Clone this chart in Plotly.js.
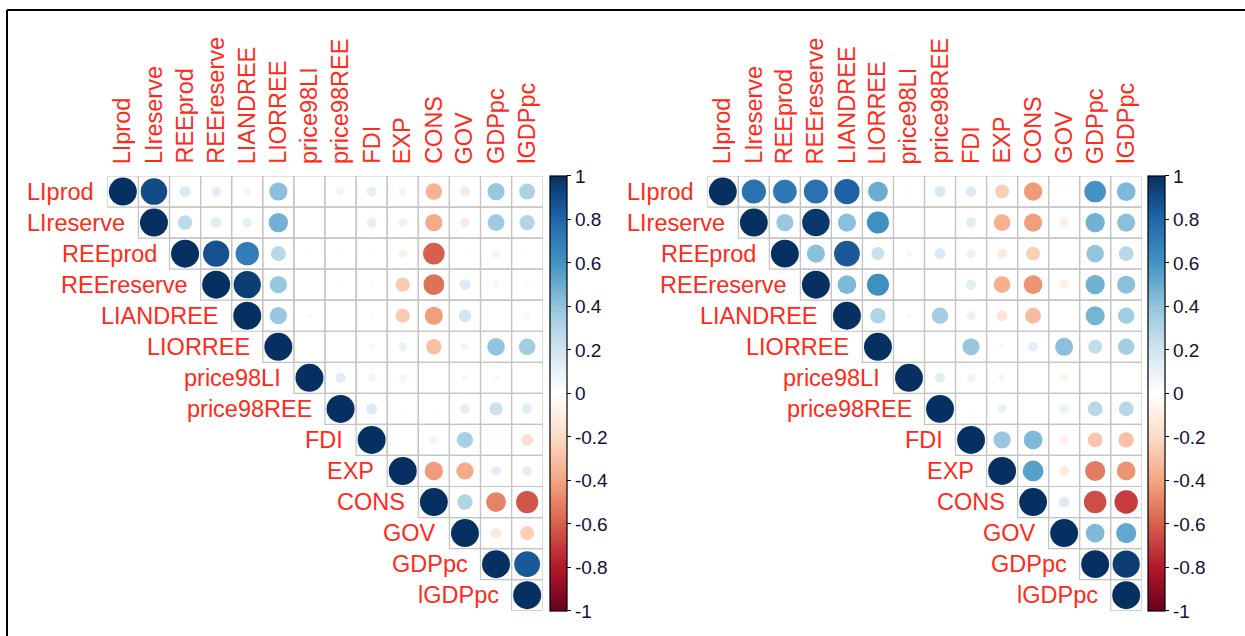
<!DOCTYPE html>
<html>
<head>
<meta charset="utf-8">
<script src="https://cdn.plot.ly/plotly-3.0.1.min.js"></script>
<style>
  html, body { margin: 0; padding: 0; background: #fff; }
  #chart { width: 1245px; height: 636px; }
</style>
</head>
<body>
<div id="chart"></div>
<script>
// Variable names (rows and columns of both correlation matrices)
const variables = ["LIprod", "LIreserve", "REEprod", "REEreserve", "LIANDREE", "LIORREE",
  "price98LI", "price98REE", "FDI", "EXP", "CONS", "GOV", "GDPpc", "lGDPpc"];

// Upper triangle of the left matrix: row i holds columns i..13
const corrLeft = [
  [1, 0.9, 0.16, 0.12, 0.07, 0.42, 0.01, 0.08, 0.12, -0.08, -0.35, -0.12, 0.38, 0.32],
  [1, 0.27, 0.14, 0.12, 0.48, 0.01, 0.0, 0.12, -0.09, -0.38, -0.12, 0.36, 0.3],
  [1, 0.88, 0.7, 0.28, -0.03, -0.01, -0.02, -0.09, -0.6, -0.01, -0.08, -0.01],
  [1, 0.95, 0.38, -0.01, -0.01, -0.03, -0.26, -0.55, 0.15, -0.05, 0.03],
  [1, 0.38, 0.04, 0.01, -0.03, -0.26, -0.42, 0.2, 0.01, 0.05],
  [1, 0.01, 0.01, -0.05, 0.1, -0.3, 0.07, 0.4, 0.35],
  [1, 0.13, 0.08, -0.07, 0.01, 0.05, 0.04, 0.01],
  [1, 0.15, -0.02, 0.02, 0.12, 0.22, 0.13],
  [1, -0.02, 0.07, 0.33, -0.03, -0.18],
  [1, -0.43, -0.38, 0.12, 0.12],
  [1, 0.3, -0.5, -0.63],
  [1, -0.13, -0.25],
  [1, 0.85],
  [1]
];

// Upper triangle of the right matrix
const corrRight = [
  [1, 0.75, 0.72, 0.75, 0.82, 0.5, 0.02, 0.16, 0.15, -0.25, -0.43, -0.02, 0.6, 0.45],
  [1, 0.38, 0.97, 0.42, 0.62, 0.01, 0.0, 0.13, -0.36, -0.42, -0.1, 0.48, 0.42],
  [1, 0.42, 0.85, 0.22, 0.05, 0.16, 0.1, -0.12, -0.25, -0.01, 0.4, 0.28],
  [1, 0.45, 0.62, 0.01, 0.0, 0.13, -0.36, -0.45, -0.1, 0.48, 0.42],
  [1, 0.3, 0.04, 0.35, 0.1, -0.15, -0.32, -0.01, 0.47, 0.35],
  [1, 0.01, 0.01, 0.38, -0.04, 0.12, 0.42, 0.25, 0.35],
  [1, 0.13, -0.08, -0.06, 0.01, -0.07, 0.01, 0.01],
  [1, 0.02, 0.1, 0.01, 0.1, 0.28, 0.28],
  [1, 0.38, 0.45, -0.08, -0.28, -0.3],
  [1, 0.55, -0.12, -0.52, -0.45],
  [1, 0.15, -0.65, -0.7],
  [1, 0.45, 0.52],
  [1, 0.95],
  [1]
];

// Colour bar ticks
const barTicks = [1, 0.8, 0.6, 0.4, 0.2, 0, -0.2, -0.4, -0.6, -0.8, -1];
const barTickText = ["1", "0.8", "0.6", "0.4", "0.2", "0", "-0.2", "-0.4", "-0.6", "-0.8", "-1"];

// Diverging red-blue palette
const rdbu = ["#67001F", "#B2182B", "#D6604D", "#F4A582", "#FDDBC7", "#FFFFFF",
  "#D1E5F0", "#92C5DE", "#4393C3", "#2166AC", "#053061"];
const colorscale = rdbu.map((c, k) => [k / (rdbu.length - 1), c]);

const W = 1245, H = 636;
const n = variables.length;
const FONT = "Liberation Sans, Arial, sans-serif";

// Pixel geometry of the two grids
const panels = [
  { data: corrLeft, left: 107.3, right: 542.7, bar: 550, ax: "" },
  { data: corrRight, left: 707.3, right: 1141.7, bar: 1148, ax: "2" }
];
const gridTop = 176, gridBottom = 610.7;

const traces = [];
const shapes = [];
const annotations = [];
const layout = {
  width: W, height: H,
  margin: { l: 0, r: 0, t: 0, b: 0 },
  paper_bgcolor: "#fff", plot_bgcolor: "rgba(0,0,0,0)",
  showlegend: false,
  font: { family: FONT, color: "#000" }
};

panels.forEach((p, idx) => {
  const cellPx = (p.right - p.left) / n;
  const xa = "xaxis" + p.ax, ya = "yaxis" + p.ax;
  const xr = "x" + p.ax, yr = "y" + p.ax;
  layout[xa] = {
    domain: [p.left / W, p.right / W], range: [0.5, n + 0.5],
    visible: false, fixedrange: true
  };
  layout[ya] = {
    domain: [1 - gridBottom / H, 1 - gridTop / H], range: [n + 0.5, 0.5],
    visible: false, fixedrange: true
  };
  if (p.ax) layout[ya].anchor = xr;
  if (p.ax) layout[xa].anchor = yr;

  const xs = [], ys = [], vals = [], sizes = [];
  p.data.forEach((row, i) => {
    row.forEach((v, k) => {
      const j = i + k;
      xs.push(j + 1); ys.push(i + 1); vals.push(v);
      sizes.push(0.9 * Math.sqrt(Math.abs(v)) * cellPx);
      // cell border
      shapes.push({
        type: "rect", xref: xr, yref: yr, layer: "below",
        x0: j + 0.5, x1: j + 1.5, y0: i + 0.5, y1: i + 1.5,
        line: { color: "#C4C4C4", width: 1.2 }, fillcolor: "rgba(0,0,0,0)"
      });
    });
    // row label left of the diagonal cell
    annotations.push({
      xref: xr, yref: yr, x: i + 0.5, y: i + 1, xanchor: "right", yanchor: "middle",
      xshift: -11, showarrow: false, text: variables[i],
      font: { family: FONT, size: 23.5, color: "#FF2A1A" }
    });
    // column label above the grid
    annotations.push({
      xref: xr, yref: yr, x: i + 1, y: 0.5, xanchor: "center", yanchor: "bottom",
      yshift: 10, textangle: -90, showarrow: false, text: variables[i],
      font: { family: FONT, size: 23.5, color: "#FF2A1A" }
    });
  });

  traces.push({
    type: "scatter", mode: "markers", xaxis: xr, yaxis: yr,
    x: xs, y: ys, hoverinfo: "skip",
    marker: {
      symbol: "circle", size: sizes, color: vals, cmin: -1, cmax: 1,
      opacity: 1,
      colorscale: colorscale, line: { width: 0 },
      showscale: true,
      colorbar: {
        x: p.bar / W, xanchor: "left", xref: "paper",
        y: 1 - (gridTop + gridBottom) / 2 / H, yanchor: "middle",
        len: gridBottom - gridTop, lenmode: "pixels",
        thickness: 17, thicknessmode: "pixels",
        outlinewidth: 1.2, outlinecolor: "#000",
        tickmode: "array", tickvals: barTicks, ticktext: barTickText,
        ticks: "outside", ticklen: 4, tickwidth: 1, tickcolor: "#000",
        tickfont: { family: FONT, size: 19, color: "#111133" },
        xpad: 0, ypad: 0, borderwidth: 0
      }
    }
  });
});

// Frame along the top and left edges
shapes.push({ type: "line", xref: "paper", yref: "paper",
  x0: 7 / W, x1: 1, y0: 1 - 10 / H, y1: 1 - 10 / H, line: { color: "#000", width: 2 } });
shapes.push({ type: "line", xref: "paper", yref: "paper",
  x0: 7 / W, x1: 7 / W, y0: 0, y1: 1 - 10 / H, line: { color: "#000", width: 2 } });

layout.shapes = shapes;
layout.annotations = annotations;

Plotly.newPlot("chart", traces, layout, { displayModeBar: false, staticPlot: true });
</script>
</body>
</html>
